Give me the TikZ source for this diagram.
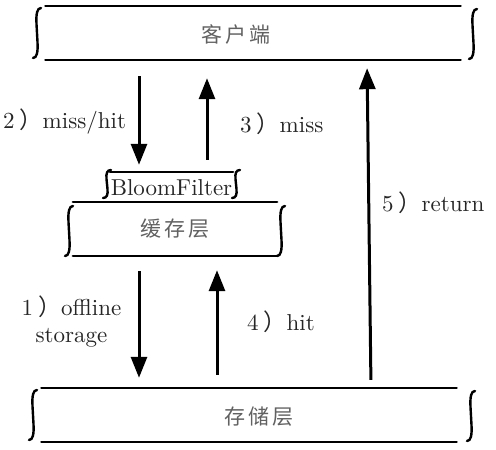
\documentclass[tikz,border=0pt]{standalone}
\usepackage{fontspec}
\setmainfont{lmroman10-regular.otf}
\newfontfamily\cjk{Noto Sans CJK SC}
\usetikzlibrary{arrows.meta}
\newcommand{\fwparen}{\hspace{5pt}{\cjk ）}}
\begin{document}
\begin{tikzpicture}[x=1pt,y=-1pt,
  boxline/.style={line width=2.2pt, line cap=round},
  brkline/.style={line width=2.4pt, line cap=round},
  arr/.style={line width=3pt, -{Triangle[width=16pt,length=21pt]}},
  lbl/.style={font=\fontsize{23}{27}\selectfont, text=black!85, inner sep=0pt},
  cjklbl/.style={font=\cjk\fontsize{21}{24}\selectfont, text=black!62, inner sep=0pt},
  layer/.style={inner sep=0pt, minimum height=54pt},
  brk/.pic={\draw[brkline] (4,-25) .. controls (0,-25) and (-1,-19) .. (-0.5,-9) -- (0.5,9) .. controls (1,19) and (0,25) .. (-4,25);}
]
\useasboundingbox (0,0) rectangle (496,450);

% layers
\node[layer, minimum width=415pt] (client) at (253,33) {};
\node[cjklbl] (clienttext) at (236,34) {客\hspace{3pt}户\hspace{3pt}端};
\node[lbl, minimum width=123pt, minimum height=32pt] (bloom) at (171.5,188) {BloomFilter};
\node[layer, cjklbl, minimum width=204pt] (cache) at (175,229) {缓\hspace{3pt}存\hspace{3pt}层};
\node[layer, minimum width=415pt] (storage) at (249,415) {};
\node[cjklbl] (storagetext) at (259,417) {存\hspace{3pt}储\hspace{3pt}层};

% box lines
\draw[boxline] (client.north west) -- (client.north east) (client.south west) -- (client.south east);
\draw[boxline] (cache.north west) -- (cache.north east) (cache.south west) -- (cache.south east);
\draw[boxline] (storage.north west) -- (storage.north east) (storage.south west) -- (storage.south east);
\draw[boxline] (bloom.north west) -- (bloom.north east);

% brackets
\pic at (37,33) {brk};
\pic at (473,34) {brk};
\pic at (69,231) {brk};
\pic at (281,231) {brk};
\pic[yscale=0.56] at (107,184) {brk};
\pic[yscale=0.56] at (236,184) {brk};
\pic at (33,415) {brk};
\pic at (471,416) {brk};

% lanes
\coordinate (lane1) at (139,0);
\coordinate (lane2) at (207,0);
\coordinate (lane4) at (217,0);
\coordinate (lane5b) at (371,0);
\coordinate (lane5t) at (367,0);

% arrows
\draw[arr, shorten <=16pt, shorten >=7pt] (client.south -| lane1) -- (bloom.north -| lane1);
\draw[arr, shorten <=12pt, shorten >=18pt] (bloom.north -| lane2) -- (client.south -| lane2);
\draw[arr, shorten <=15pt, shorten >=10pt] (cache.south -| lane1) -- (storage.north -| lane1);
\draw[arr, shorten <=13pt, shorten >=14pt] (storage.north -| lane4) -- (cache.south -| lane4);
\draw[arr, shorten <=8pt, shorten >=8pt] (storage.north -| lane5b) -- (client.south -| lane5t);

% labels
\node[lbl, anchor=base west] (l2) at (3,128) {2\fwparen miss/hit};
\node[lbl, anchor=base west] (l3) at (240,132) {3\fwparen miss};
\node[lbl, anchor=base west] (l5) at (382,211) {5\fwparen return};
\node[lbl, anchor=base west] (l4) at (247,330) {4\fwparen hit};
\node[lbl, align=center, anchor=base] (l1) at (71.5,342) {1\fwparen offline\\storage};
\end{tikzpicture}
\end{document}
